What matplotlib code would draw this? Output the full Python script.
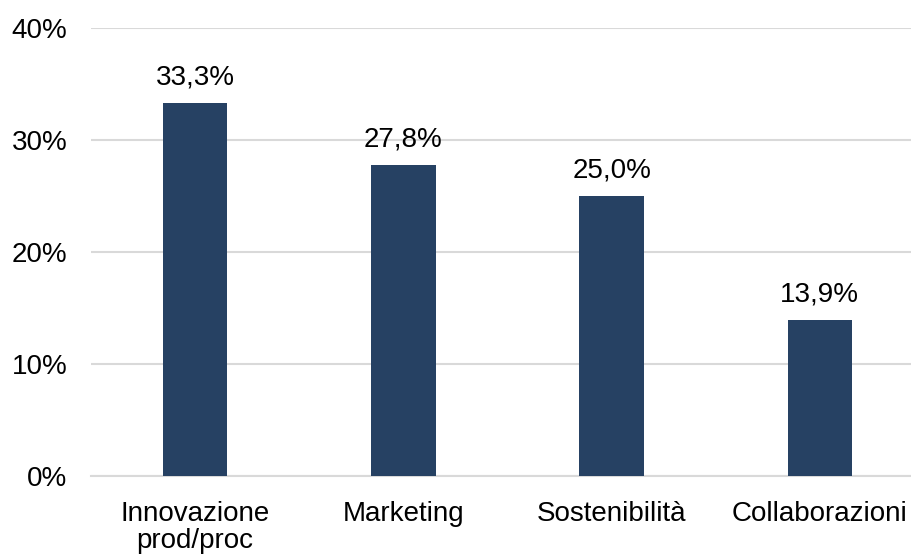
import numpy as np
import matplotlib.pyplot as plt

plt.rcParams['font.family'] = ['Liberation Sans', 'DejaVu Sans']

# dati
categorie = ["Innovazione\nprod/proc", "Marketing", "Sostenibilità", "Collaborazioni"]
valori = [33.3, 27.8, 25.0, 13.9]
etichette = ["33,3%", "27,8%", "25,0%", "13,9%"]
tick_y = [0, 10, 20, 30, 40]

fig = plt.figure(figsize=(9.12, 5.56), dpi=100)
ax = fig.add_axes([91 / 912, 80 / 556, 821 / 912, 448 / 556])

x = np.arange(len(categorie))
bars = ax.bar(x, valori, width=0.31, color="#264163", zorder=3)

# etichette sopra le barre
for b, lab in zip(bars, etichette):
    ax.annotate(lab, (b.get_x() + b.get_width() / 2, b.get_height()),
                xytext=(0, 9), textcoords="offset points",
                ha="center", va="bottom", fontsize=20, color="#000000")

ax.set_xlim(-0.5, 3.5 - 12 / 208.3)
ax.set_ylim(0, 40)
ax.set_yticks(tick_y)
ax.set_yticklabels([f"{t}%" for t in tick_y])
ax.set_xticks(x)
ax.set_xticklabels(categorie, linespacing=1.05)

ax.tick_params(axis="y", length=0, labelsize=20, pad=17)
ax.tick_params(axis="x", length=0, labelsize=20, pad=18)

ax.grid(axis="y", color="#d9d9d9", linewidth=1.5, zorder=0)
for s in ["top", "right", "left"]:
    ax.spines[s].set_visible(False)
ax.spines["bottom"].set_color("#d9d9d9")
ax.spines["bottom"].set_linewidth(1.5)

plt.savefig("out.png", dpi=100)
